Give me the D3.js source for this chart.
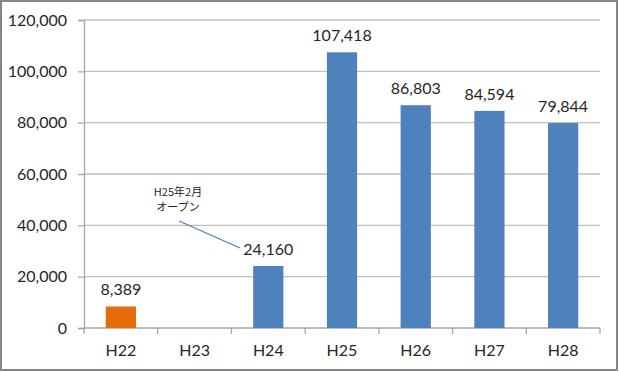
<!DOCTYPE html>
<html lang="ja">
<head>
<meta charset="UTF-8" />
<title>d3</title>
<style>
  body { margin: 0; background: #fff; }
  svg { display: block; font-family: Lato, "Noto Sans", sans-serif; }
</style>
</head>
<body>
<div id="container"></div>
<script src="https://cdn.jsdelivr.net/npm/d3@7"></script>
<script>
  const categories = ["H22", "H23", "H24", "H25", "H26", "H27", "H28"];
  const values = [8389, null, 24160, 107418, 86803, 84594, 79844];
  const barColors = ["#e46c0a", "#4f81bd", "#4f81bd", "#4f81bd", "#4f81bd", "#4f81bd", "#4f81bd"];
  const yTicks = [0, 20000, 40000, 60000, 80000, 100000, 120000];
  const noteLines = ["H25年2月", "オープン"];

  const W = 619, H = 372;
  const margin = { top: 20, right: 19, bottom: 44, left: 84 };

  const svg = d3.select("#container").append("svg")
    .attr("width", W).attr("height", H);

  // outer frame
  svg.append("rect")
    .attr("x", 1).attr("y", 1).attr("width", W - 3).attr("height", H - 3)
    .attr("fill", "#fff").attr("stroke", "#868686").attr("stroke-width", 2);

  const x = d3.scaleBand().domain(categories)
    .range([margin.left, W - margin.right]).paddingInner(0.59).paddingOuter(0.295);
  const y = d3.scaleLinear().domain([0, 120000])
    .range([H - margin.bottom, margin.top]);

  // gridlines
  svg.append("g").selectAll("line")
    .data(yTicks.filter(d => d > 0)).enter().append("line")
    .attr("x1", margin.left).attr("x2", W - margin.right)
    .attr("y1", d => y(d)).attr("y2", d => y(d))
    .attr("stroke", "#bfbfbf").attr("stroke-width", 1.3);

  // y axis
  const yAxis = svg.append("g")
    .attr("transform", `translate(${margin.left},0)`)
    .call(d3.axisLeft(y).tickValues(yTicks).tickFormat(d3.format(",")).tickSize(6).tickPadding(11));
  yAxis.select(".domain").attr("stroke", "#a6a6a6").attr("stroke-width", 1.3);
  yAxis.selectAll(".tick line").attr("stroke", "#a6a6a6").attr("stroke-width", 1.3);
  yAxis.selectAll("text").attr("font-size", 16).attr("fill", "#262626").attr("font-family", "Lato, sans-serif");

  // x axis
  const boundaries = d3.range(categories.length + 1).map(i => margin.left + i * x.step());
  const baseY = y(0);
  svg.append("line")
    .attr("x1", margin.left).attr("x2", W - margin.right)
    .attr("y1", baseY).attr("y2", baseY)
    .attr("stroke", "#a6a6a6").attr("stroke-width", 1.3);
  svg.append("g").selectAll("line")
    .data(boundaries).enter().append("line")
    .attr("x1", d => d).attr("x2", d => d)
    .attr("y1", baseY).attr("y2", baseY + 6)
    .attr("stroke", "#a6a6a6").attr("stroke-width", 1.3);
  svg.append("g").selectAll("text")
    .data(categories).enter().append("text")
    .attr("x", d => x(d) + x.bandwidth() / 2)
    .attr("y", baseY + 28)
    .attr("text-anchor", "middle")
    .attr("font-size", 16).attr("fill", "#262626")
    .text(d => d);

  const data = categories.map((c, i) => ({ c, v: values[i], color: barColors[i] }))
    .filter(d => d.v != null);

  // bars
  svg.append("g").selectAll("rect")
    .data(data).enter().append("rect")
    .attr("x", d => x(d.c)).attr("width", x.bandwidth())
    .attr("y", d => y(d.v)).attr("height", d => y(0) - y(d.v))
    .attr("fill", d => d.color);

  // value labels
  svg.append("g").selectAll("text")
    .data(data).enter().append("text")
    .attr("x", d => x(d.c) + x.bandwidth() / 2 + (d.c === "H24" ? 0 : 0))
    .attr("y", d => y(d.v) - 11)
    .attr("text-anchor", "middle")
    .attr("font-size", 16).attr("fill", "#262626")
    .text(d => d3.format(",")(d.v));

  // annotation
  const note = svg.append("text")
    .attr("x", 178).attr("y", 196)
    .attr("text-anchor", "middle")
    .attr("font-size", 11).attr("fill", "#262626")
    .attr("font-family", "'Noto Sans CJK JP', sans-serif");
  noteLines.forEach((t, i) => {
    note.append("tspan").attr("x", 178).attr("dy", i === 0 ? 0 : 15).text(t);
  });
  svg.append("line")
    .attr("x1", 179).attr("y1", 221)
    .attr("x2", 240).attr("y2", 248)
    .attr("stroke", "#4a7ebb").attr("stroke-width", 1.3);
</script>
</body>
</html>
